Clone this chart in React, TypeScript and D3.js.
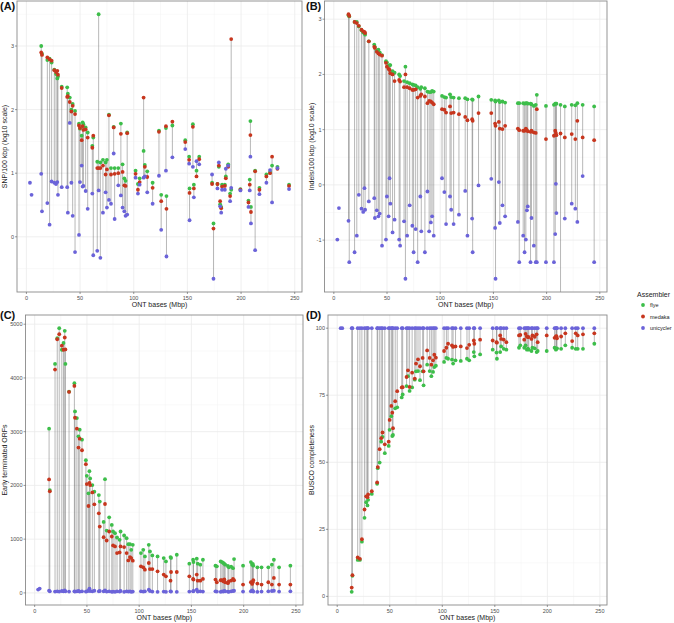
import React from "react";
import * as d3 from "d3";

const W = 674;
const H = 623;

const assemblers = ["flye", "medaka", "unicycler"];
const assemblerColors = ["#3DBE4A", "#C7361E", "#6B63D9"];

const xTicks = [0, 50, 100, 150, 200, 250];
const snpTicks = [0, 1, 2, 3];
const indelTicks = [-1, 0, 1, 2, 3];
const orfTicks = [0, 1000, 2000, 3000, 4000, 5000];
const buscoTicks = [0, 25, 50, 75, 100];

const sampleX = [
  3.3, 4.8, 13.8, 14.5, 19.5, 21.6, 23.5, 26.0, 27.6, 28.8,
  29.4, 32.9, 38.0, 38.6, 40.4, 41.9, 43.1, 45.3, 49.0, 49.9,
  51.5, 52.4, 53.1, 55.2, 57.1, 61.4, 62.3, 66.0, 67.3, 68.9,
  71.3, 73.8, 75.0, 76.9, 78.8, 81.3, 82.2, 85.6, 88.0, 89.6,
  91.2, 92.4, 93.9, 101.7, 103.9, 105.5, 109.2, 110.3, 112.6, 117.6,
  123.5, 125.6, 130.0, 130.5, 136.0, 148.0, 151.6, 152.0, 155.1, 156.0,
  158.5, 161.0, 173.0, 174.3, 178.0, 179.3, 180.5, 181.5, 182.3, 184.9,
  185.8, 188.0, 189.8, 190.8, 199.4, 206.9, 208.1, 208.7, 209.2, 213.1,
  217.1, 223.6, 227.0, 228.9, 233.9, 244.7,
];

const snpFlye = [
  null, null, 3.00, 2.88, 2.78, 2.80, 2.74, 2.63, 2.56, 2.49,
  2.52, 2.36, 2.35, 2.25, 2.19, 2.00, 2.09, 1.98, 1.78, 1.70,
  1.59, 1.80, 1.77, 1.72, 1.64, 1.43, 1.56, 1.18, 3.50, 1.17,
  1.21, 1.17, 1.21, 1.92, 1.08, 1.73, 1.08, 1.08, 1.78, 1.14,
  0.92, 0.88, 1.64, 1.04, 0.83, 0.92, 1.35, 1.13, 1.03, 0.85,
  1.67, 0.66, 1.71, 0.64, 1.75, 1.52, 1.26, 0.76, 1.77, 0.82,
  1.04, 1.26, 0.85, 0.21, 0.83, 1.10, 0.51, 0.47, 0.82, 0.82,
  0.95, 1.14, 0.68, 0.74, 0.75, 0.57, 0.90, 1.82, 0.47, 1.04,
  0.77, 0.98, 1.02, 1.12, 1.10, 0.82,
];
const snpMedaka = [
  null, null, 2.90, 2.86, 2.82, 2.79, 2.77, 2.62, 2.59, 2.61,
  2.55, 2.34, 2.20, 2.21, 2.12, 1.97, 2.06, 1.93, 1.75, 1.71,
  1.52, 1.74, 1.68, 1.69, 1.56, 1.40, 1.59, 1.08, 1.08, 1.08,
  1.12, 0.98, 1.06, 1.91, 0.98, 1.72, 0.99, 1.00, 1.62, 1.02,
  0.81, 0.80, 1.63, 0.99, 0.74, 0.86, 2.19, 1.10, 0.94, 0.77,
  1.65, 0.56, 1.74, 0.44, 1.81, 1.49, 1.21, 0.69, 1.73, 0.76,
  0.95, 1.22, 0.83, 0.13, 0.83, 1.12, 0.56, 0.45, 0.79, 0.80,
  0.92, 1.10, 0.64, 3.11, 0.74, 0.54, 0.82, 1.60, 0.39, 1.03,
  0.74, 0.95, 1.00, 1.26, 1.07, 0.80,
];
const snpUnicycler = [
  0.85, 0.66, 0.99, 0.40, 0.53, 0.19, 0.87, 0.85, 0.83, 0.86,
  0.66, 0.78, 0.78, 0.38, 1.79, 0.85, 0.33, -0.24, 0.03, 0.86,
  1.12, 0.79, 0.80, 0.72, 0.44, 0.68, -0.29, -0.22, 0.73, -0.33,
  0.38, 0.70, 0.46, 0.58, 0.52, 1.31, 0.28, 0.81, 0.65, 0.46,
  0.40, 0.33, 0.35, 0.93, 0.68, 0.82, 0.93, 0.95, 0.70, 0.52,
  0.96, 0.11, 1.04, -0.31, 1.25, 1.38, 1.15, 0.26, 1.10, 0.62,
  1.19, 1.14, 0.98, -0.66, 0.76, 1.17, 0.48, 0.38, 0.74, 0.74,
  1.07, 1.12, 0.56, 0.77, 0.73, 0.47, 0.73, 1.26, 0.21, -0.21,
  0.67, 0.85, 1.05, 0.54, 1.08, 0.75,
];

const indelFlye = [
  null, null, 3.07, 3.05, 2.95, 2.95, 2.87, 2.80, 2.76, 2.74,
  2.72, 2.60, 2.54, 2.50, 2.43, 2.45, 2.40, 2.35, 2.24, 2.22,
  2.16, 2.17, 2.17, 2.06, 2.03, 2.00, 1.97, 1.88, 2.14, 1.86,
  1.84, 1.82, 1.81, 1.80, 1.77, 1.74, 1.77, 1.75, 1.69, 1.68,
  1.68, 1.70, 1.69, 1.61, 1.59, 1.58, 1.64, 1.59, 1.58, 1.57,
  1.57, 1.55, 1.55, 1.54, 1.60, 1.54, 1.53, 1.51, 1.53, 1.50,
  1.51, 1.49, 1.48, 1.48, 1.48, 1.47, 1.48, 1.48, 1.47, 1.47,
  1.46, 1.43, 1.45, 1.63, 1.43, 1.45, 1.47, 1.47, 1.47, 1.45,
  1.42, 1.45, 1.44, 1.48, 1.45, 1.42,
];
const indelMedaka = [
  null, null, 3.09, 3.06, 2.95, 2.93, 2.88, 2.81, 2.78, 2.77,
  2.75, 2.60, 2.50, 2.48, 2.41, 2.38, 2.36, 2.34, 2.21, 2.14,
  2.10, 2.08, 2.02, 2.00, 1.88, 1.90, 1.87, 1.77, 2.00, 1.77,
  1.75, 1.72, 1.72, 1.73, 1.58, 1.61, 1.64, 1.60, 1.48, 1.52,
  1.51, 1.49, 1.46, 1.37, 1.36, 1.31, 1.42, 1.30, 1.31, 1.28,
  1.23, 1.17, 1.19, 1.16, 1.30, 1.30, 1.11, 1.07, 1.14, 1.02,
  1.01, 1.07, 1.02, 0.99, 0.98, 0.98, 1.02, 0.99, 0.97, 0.96,
  0.98, 0.95, 0.94, 1.37, 0.83, 0.89, 0.98, 0.94, 0.90, 0.93,
  0.86, 0.92, 0.83, 1.16, 0.86, 0.81,
];
const indelUnicycler = [
  -0.99, -0.42, -0.65, -1.40, -1.22, -0.92, -0.18, -0.43, -0.49, -0.06,
  -0.45, -0.30, -0.24, -0.60, -0.46, -0.57, -0.52, -1.10, -0.99, -0.21,
  -0.57, 0.12, -0.34, -0.86, -0.63, -0.99, -1.10, -0.66, -1.70, -0.92,
  -0.37, -0.74, -1.22, -0.80, -1.40, -0.21, -0.84, -1.22, -0.12, -0.84,
  -0.68, -0.57, -0.92, 0.12, -0.13, -0.71, -0.21, -0.45, -0.71, -0.54,
  -0.11, -0.92, -0.61, -1.22, -0.01, 0.11, -0.78, -1.70, 0.05, -0.69,
  -0.37, -0.57, -0.67, -1.40, -0.92, -1.22, -0.99, -0.46, -0.39, -1.40,
  -0.60, -1.10, -1.40, -1.40, -1.40, -1.40, -0.89, 0.02, -0.51, -Infinity,
  -0.61, -0.34, -0.43, -0.67, 0.16, -1.40,
];

const orfFlye = [
  null, null, 3056, 1914, 4260, 4740, 4926, 4525, 4650, 4877,
  4260, 3747, 3901, 3377, 3253, 2914, 3037, 2852, 2469, 2179,
  1852, 2265, 2130, 2006, 1883, 1821, 1700, 1321, 2117, 1160,
  1407, 1265, 1142, 1111, 1031, 988, 1142, 1068, 1019, 907,
  907, 802, 895, 741, 802, 679, 895, 772, 698, 679,
  648, 586, 667, 650, 710, 543, 617, 574, 636, 543,
  525, 617, 506, 494, 586, 574, 556, 540, 525, 500,
  475, 490, 460, 630, 506, 574, 525, 540, 506, 475,
  475, 475, 525, 617, 475, 506,
];
const orfMedaka = [
  null, null, 2111, 1890, 4155, 4720, 4815, 4600, 4525, 4753,
  4530, 3740, 3852, 3259, 3056, 2704, 2870, 2654, 2395, 2025,
  1617, 2049, 2006, 1870, 1648, 1481, 1235, 1037, 1654, 975,
  1142, 1049, 883, 864, 741, 753, 864, 852, 741, 605,
  667, 648, 600, 494, 475, 432, 556, 444, 444, 401,
  340, 309, 228, 389, 389, 309, 259, 247, 340, 228,
  228, 259, 247, 198, 235, 235, 216, 250, 198, 180,
  216, 230, 260, 235, 154, 198, 167, 200, 235, 173,
  154, 198, 154, 278, 154, 154,
];
const orfUnicycler = [
  62, 80, 43, 30, 25, 30, 25, 35, 30, 45,
  30, 25, 30, 25, 30, 35, 25, 30, 25, 30,
  40, 80, 35, 30, 40, 30, 35, 30, 45, 25,
  30, 20, 25, 20, 30, 25, 35, 20, 30, 25,
  30, 20, 25, 30, 25, 30, 60, 35, 25, 20,
  25, 20, 30, 25, 20, 25, 30, 35, 60, 25,
  30, 25, 30, 25, 20, 30, 25, 35, 30, 25,
  20, 30, 35, 40, 25, 30, 45, 35, 25, 20,
  25, 30, 35, 40, 25, 30,
];

const buscoFlye = [
  null, null, 1.7, 7.7, 13.6, 13.6, 20.4, 29.3, 35.1, 33.9,
  36.0, 38.2, 42.0, 47.8, 49.9, 57.7, 59.5, 53.4, 56.1, 62.1,
  67.2, 59.8, 60.2, 70.1, 70.5, 74.2, 75.3, 78.4, 82.1, 76.6,
  77.9, 80.8, 83.9, 84.0, 80.6, 83.9, 78.7, 86.4, 84.0, 82.1,
  83.7, 85.5, 86.0, 87.4, 88.9, 88.6, 88.3, 86.8, 88.0, 87.8,
  88.6, 88.0, 91.1, 89.5, 90.2, 92.0, 90.9, 88.6, 91.1, 93.2,
  92.3, 92.0, 92.7, 93.6, 92.7, 93.6, 92.0, 92.4, 92.0, 91.5,
  92.7, 92.5, 91.1, 91.5, 91.5, 92.7, 92.0, 92.3, 92.5, 92.3,
  93.6, 92.7, 92.3, 92.3, 92.3, 94.2,
];
const buscoMedaka = [
  null, null, 3.3, 7.9, 14.5, 14.0, 21.3, 32.4, 37.3, 37.0,
  38.0, 39.2, 42.5, 48.2, 54.9, 59.0, 61.1, 56.7, 57.7, 65.8,
  71.0, 68.5, 62.7, 72.8, 76.5, 77.9, 78.0, 81.8, 84.3, 78.1,
  83.4, 81.2, 86.8, 88.4, 85.8, 88.9, 83.9, 91.7, 88.9, 86.4,
  88.0, 90.1, 89.0, 91.5, 92.7, 94.2, 93.6, 93.0, 93.2, 93.2,
  92.6, 93.8, 95.4, 94.2, 95.7, 95.4, 94.8, 94.6, 97.3, 96.0,
  95.7, 94.8, 97.3, 97.5, 95.7, 97.9, 96.9, 96.7, 96.7, 96.0,
  97.3, 96.8, 97.7, 94.8, 97.3, 96.4, 96.9, 97.0, 96.2, 96.9,
  98.1, 95.2, 98.1, 97.3, 97.7, 98.1,
];
const buscoUnicycler = [
  100, 100, 100, 100, 100, 100, 100, 100, 100, 100,
  100, 100, 100, 100, 100, 100, 100, 100, 100, 100,
  100, 100, 100, 100, 100, 100, 100, 100, 100, 100,
  100, 100, 100, 100, 100, 100, 100, 100, 100, 100,
  100, 100, 100, 100, 100, 100, 100, 100, 100, 100,
  100, 100, 100, 100, 100, 100, 100, 100, 100, 100,
  100, 100, 100, 100, 100, 100, 100, 100, 100, 100,
  100, 100, 100, 100, 100, 100, 100, 100, 100, 100,
  100, 100, 100, 100, 100, 100,
];

const FONT = "'Liberation Sans', Arial, Helvetica, sans-serif";

function expand(ext: [number, number]): [number, number] {
  const r = ext[1] - ext[0];
  return [ext[0] - 0.05 * r, ext[1] + 0.05 * r];
}

function minorOf(ticks: number[], lo: number, hi: number) {
  const step = ticks[1] - ticks[0];
  const out: number[] = [];
  for (let i = -1; i < ticks.length; i++) {
    const m = ticks[0] + step * (i + 0.5);
    if (m > lo && m < hi) out.push(m);
  }
  return out;
}

type PanelProps = {
  id: string;
  label: string;
  left: number;
  right: number;
  top: number;
  bottom: number;
  labelX: number;
  labelY: number;
  yTitleX: number;
  yTitle: string;
  yTicks: number[];
  series: (number | null)[][];
};

function Panel(p: PanelProps) {
  const xs = d3
    .scaleLinear()
    .domain(expand(d3.extent(sampleX) as [number, number]))
    .range([p.left, p.right]);
  const finite: number[] = [];
  p.series.forEach((s) =>
    s.forEach((v) => {
      if (v != null && isFinite(v)) finite.push(v);
    })
  );
  const yd = expand(d3.extent(finite) as [number, number]);
  const ys = d3.scaleLinear().domain(yd).range([p.bottom, p.top]);
  const xd = xs.domain();
  const yPos = (v: number) => (v === -Infinity ? p.bottom : ys(v));
  const xMinor = minorOf(xTicks, xd[0], xd[1]);
  const yMinor = minorOf(p.yTicks, yd[0], yd[1]);
  const midY = (p.top + p.bottom) / 2;
  const midX = (p.left + p.right) / 2;

  return (
    <g>
      <defs>
        <clipPath id={"clip" + p.id}>
          <rect x={p.left} y={p.top} width={p.right - p.left} height={p.bottom - p.top} />
        </clipPath>
      </defs>
      <rect x={p.left} y={p.top} width={p.right - p.left} height={p.bottom - p.top} fill="#fff" />
      {xMinor.map((t) => (
        <line key={"xm" + t} x1={xs(t)} x2={xs(t)} y1={p.top} y2={p.bottom} stroke="#F2F2F2" strokeWidth={0.5} />
      ))}
      {yMinor.map((t) => (
        <line key={"ym" + t} x1={p.left} x2={p.right} y1={ys(t)} y2={ys(t)} stroke="#F2F2F2" strokeWidth={0.5} />
      ))}
      {xTicks.map((t) => (
        <line key={"xg" + t} x1={xs(t)} x2={xs(t)} y1={p.top} y2={p.bottom} stroke="#EBEBEB" strokeWidth={0.8} />
      ))}
      {p.yTicks.map((t) => (
        <line key={"yg" + t} x1={p.left} x2={p.right} y1={ys(t)} y2={ys(t)} stroke="#EBEBEB" strokeWidth={0.8} />
      ))}
      <g clipPath={`url(#clip${p.id})`}>
        {sampleX.map((x, i) => {
          const vals = p.series.map((s) => s[i]).filter((v) => v != null) as number[];
          if (vals.length < 2) return null;
          const lo = Math.min(...vals);
          const hi = Math.max(...vals);
          return (
            <line
              key={"v" + i}
              x1={xs(x)}
              x2={xs(x)}
              y1={yPos(lo)}
              y2={yPos(hi)}
              stroke="#555"
              strokeOpacity={0.6}
              strokeWidth={0.7}
            />
          );
        })}
        {p.series.map((s, k) =>
          s.map((v, i) =>
            v == null || !isFinite(v) ? null : (
              <circle key={k + "-" + i} cx={xs(sampleX[i])} cy={ys(v)} r={1.9} fill={assemblerColors[k]} />
            )
          )
        )}
      </g>
      <rect x={p.left} y={p.top} width={p.right - p.left} height={p.bottom - p.top} fill="none" stroke="#8a8a8a" strokeWidth={0.9} />
      {xTicks.map((t) => (
        <g key={"xt" + t}>
          <line x1={xs(t)} x2={xs(t)} y1={p.bottom} y2={p.bottom + 2} stroke="#555" strokeWidth={0.6} />
          <text x={xs(t)} y={p.bottom + 7.5} fontSize={5.5} fill="#4D4D4D" textAnchor="middle" fontFamily={FONT}>
            {t}
          </text>
        </g>
      ))}
      {p.yTicks.map((t) => (
        <g key={"yt" + t}>
          <line x1={p.left - 2} x2={p.left} y1={ys(t)} y2={ys(t)} stroke="#555" strokeWidth={0.6} />
          <text x={p.left - 3} y={ys(t) + 2} fontSize={5.5} fill="#4D4D4D" textAnchor="end" fontFamily={FONT}>
            {t}
          </text>
        </g>
      ))}
      <text x={midX} y={p.bottom + 15} fontSize={7} fill="#222" textAnchor="middle" fontFamily={FONT}>
        ONT bases (Mbp)
      </text>
      <text
        transform={`translate(${p.yTitleX},${midY}) rotate(-90)`}
        fontSize={7}
        fill="#222"
        textAnchor="middle"
        fontFamily={FONT}
      >
        {p.yTitle}
      </text>
      <text x={p.labelX} y={p.labelY} fontSize={11} fontWeight="bold" fill="#111" fontFamily={FONT}>
        {p.label}
      </text>
    </g>
  );
}

export default function App() {
  return (
    <svg width={W} height={H} style={{ display: "block", position: "absolute", left: 0, top: 0, background: "#fff" }}>
      <rect width={W} height={H} fill="#fff" />
      <Panel
        id="A"
        label="(A)"
        left={17}
        right={302}
        top={1}
        bottom={292}
        labelX={0}
        labelY={10}
        yTitleX={7}
        yTitle="SNP/100 kbp (log10 scale)"
        yTicks={snpTicks}
        series={[snpFlye, snpMedaka, snpUnicycler]}
      />
      <Panel
        id="B"
        label="(B)"
        left={324.5}
        right={607}
        top={1}
        bottom={292}
        labelX={306}
        labelY={10}
        yTitleX={313.5}
        yTitle="Indels/100 kbp (log10 scale)"
        yTicks={indelTicks}
        series={[indelFlye, indelMedaka, indelUnicycler]}
      />
      <Panel
        id="C"
        label="(C)"
        left={25.5}
        right={303}
        top={315}
        bottom={605}
        labelX={0}
        labelY={319}
        yTitleX={7}
        yTitle="Early terminated ORFs"
        yTicks={orfTicks}
        series={[orfFlye, orfMedaka, orfUnicycler]}
      />
      <Panel
        id="D"
        label="(D)"
        left={328}
        right={607}
        top={315}
        bottom={605}
        labelX={306}
        labelY={319}
        yTitleX={313.5}
        yTitle="BUSCO completeness"
        yTicks={buscoTicks}
        series={[buscoFlye, buscoMedaka, buscoUnicycler]}
      />
      <g fontFamily={FONT}>
        <text x={637} y={297} fontSize={7} fill="#222">
          Assembler
        </text>
        {assemblers.map((a, i) => (
          <g key={a}>
            <circle cx={643} cy={305 + i * 11.5} r={1.9} fill={assemblerColors[i]} />
            <text x={650} y={307 + i * 11.5} fontSize={5.5} fill="#222">
              {a}
            </text>
          </g>
        ))}
      </g>
    </svg>
  );
}
